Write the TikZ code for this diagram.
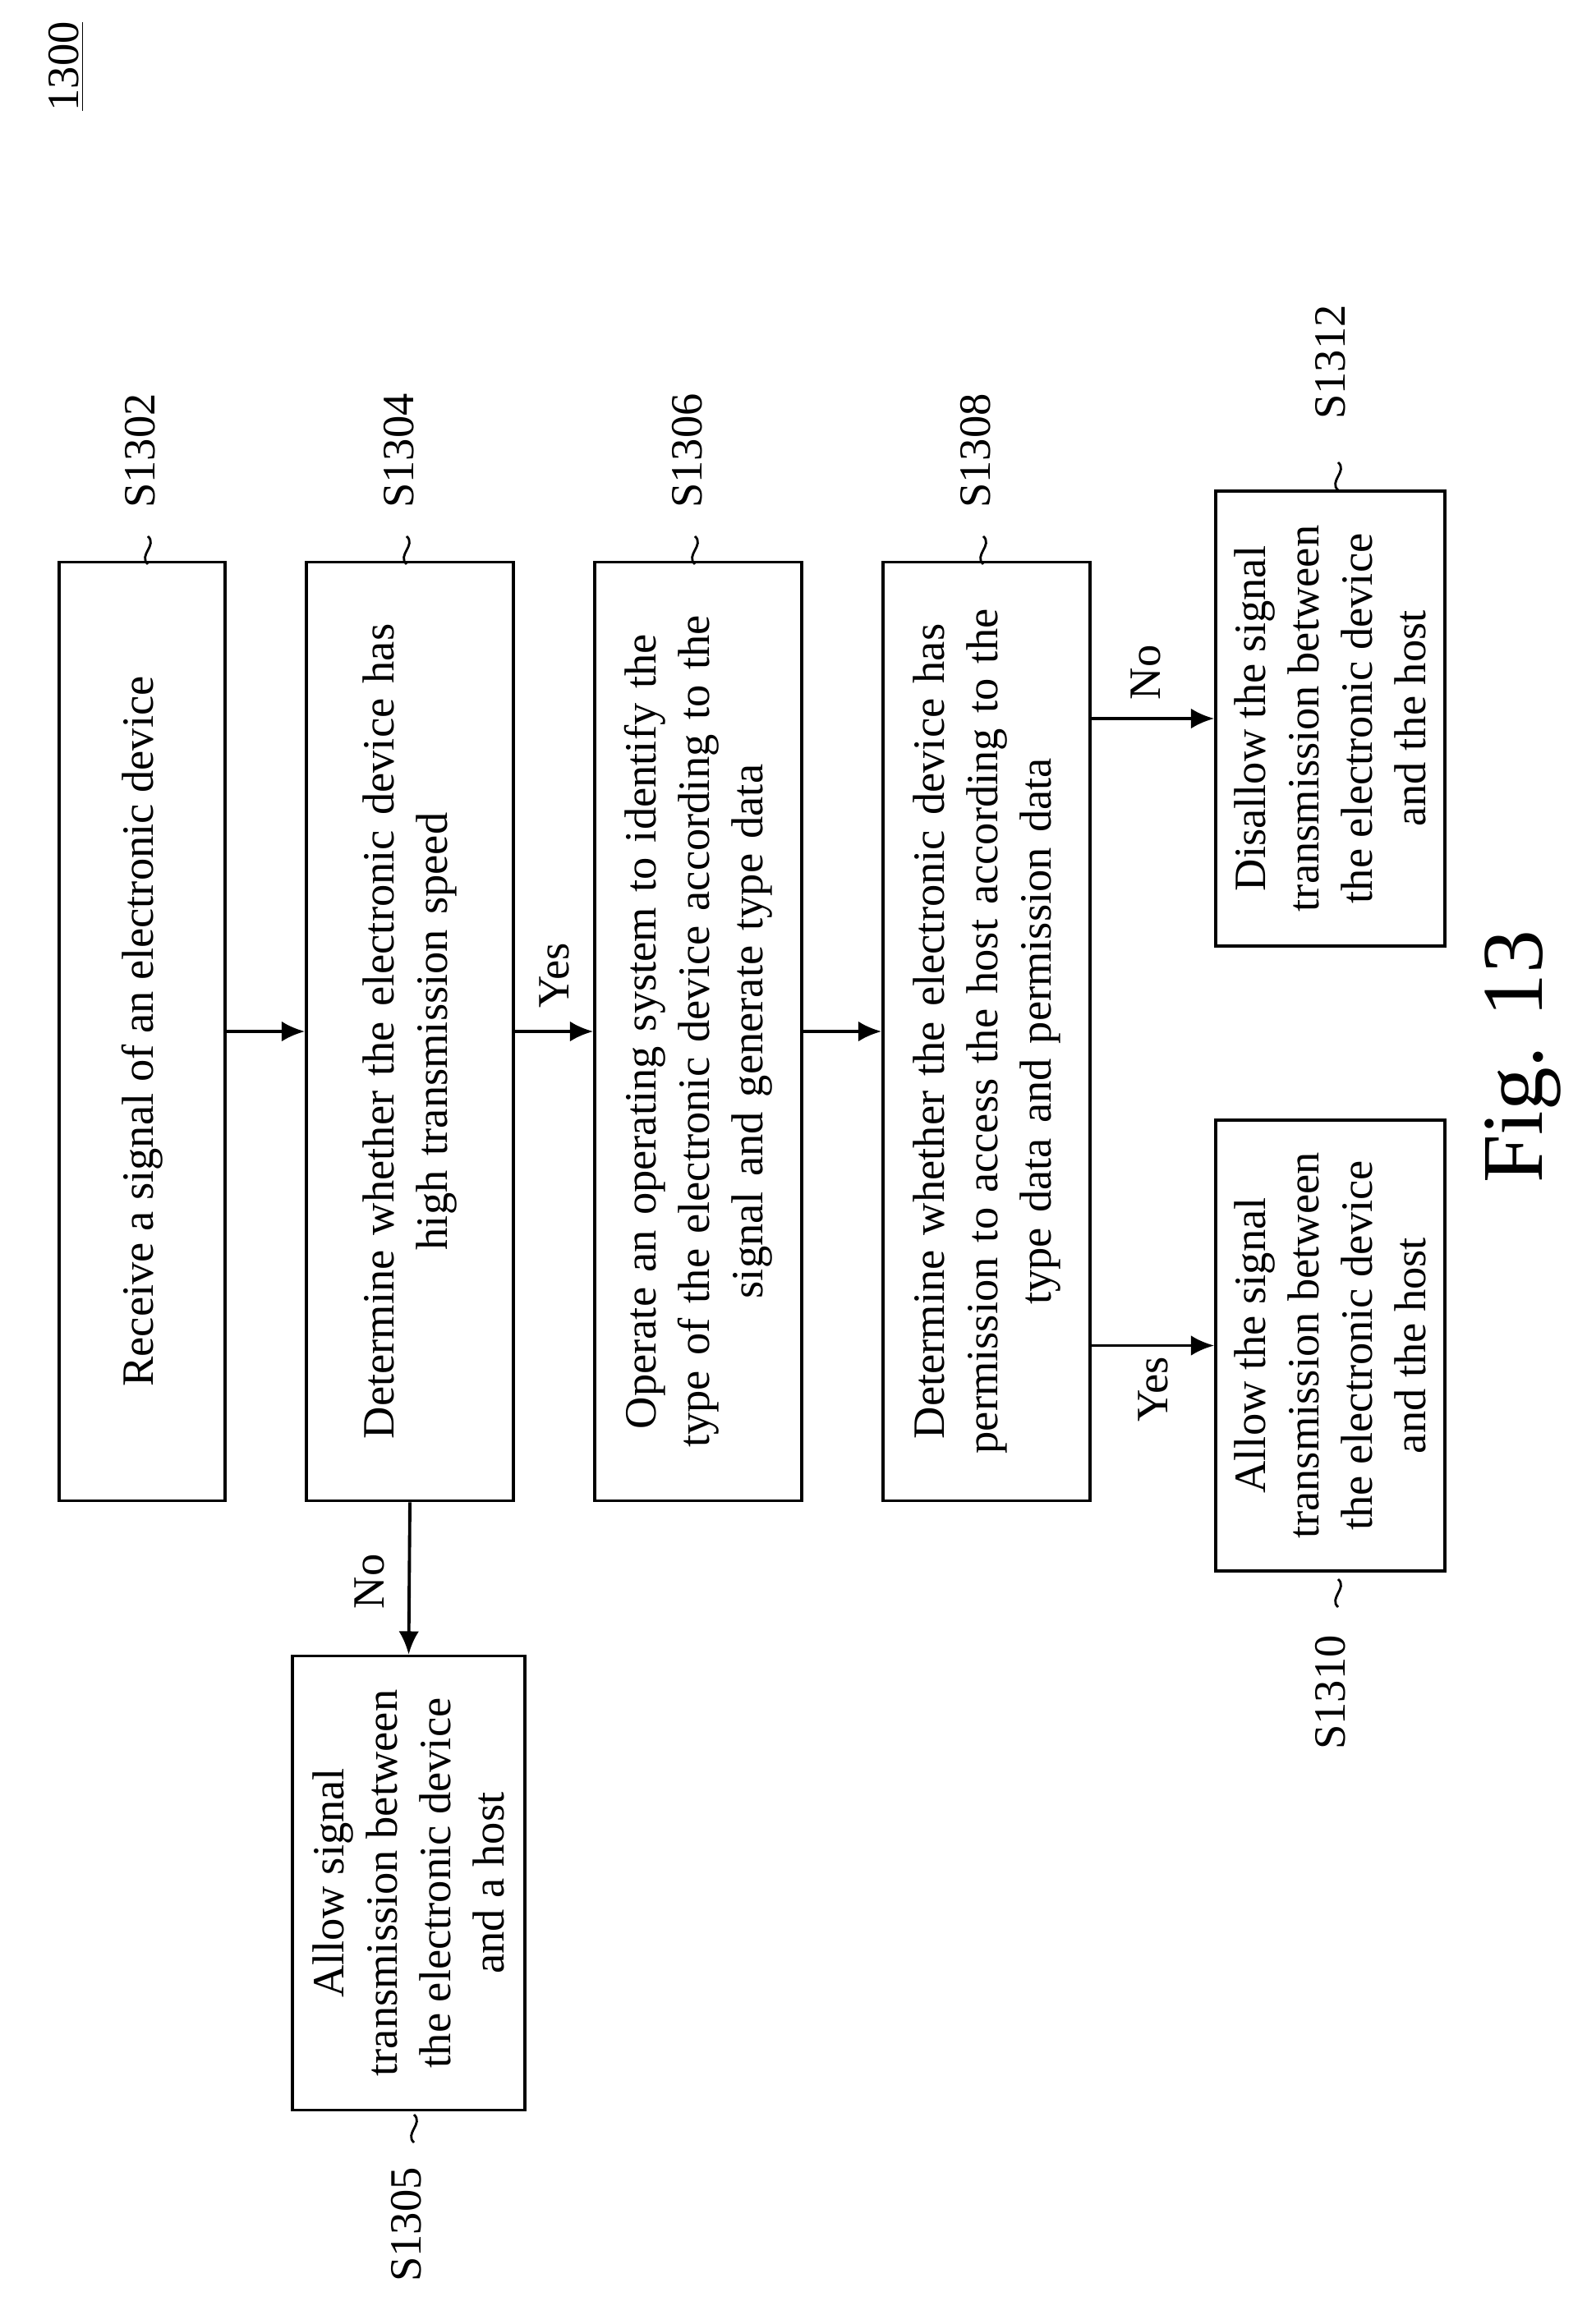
\documentclass[tikz,border=0pt]{standalone}
\usepackage{fontspec}
\setmainfont{Liberation Serif}
\usetikzlibrary{arrows.meta,calc}
\tikzset{
  proc/.style={draw, line width=1.1pt, rotate=90, align=center, inner sep=4pt,
    font=\fontsize{15.5}{18.5}\selectfont},
  lab/.style={rotate=90, font=\fontsize{15.5}{18.5}\selectfont},
  arr/.style={line width=1.1pt, -{Latex[length=8pt,width=7pt]}},
  tld/.style={line width=0.8pt}
}
% vertical tilde next to a step label
\newcommand{\tildemark}[1]{%
  \draw[tld] ($(#1)+(0,0.17)$) .. controls ($(#1)+(0.12,0.06)$) and ($(#1)+(-0.12,-0.06)$) .. ($(#1)+(0,-0.17)$);}
\begin{document}
\begin{tikzpicture}
    \useasboundingbox (0,0) rectangle (19.31,-28.30);

    % Steps
    \node[proc, minimum width=11.43cm, minimum height=2.02cm] (s1302) at (1.73,-12.56)
      {Receive a signal of an electronic device};
    \node[proc, minimum width=11.43cm, minimum height=2.52cm, text width=10.6cm] (s1304) at (4.99,-12.56)
      {Determine whether the electronic device has\\high transmission speed};
    \node[proc, minimum width=11.43cm, minimum height=2.52cm, text width=10.6cm] (s1306) at (8.50,-12.56)
      {Operate an operating system to identify the\\type of the electronic device according to the\\signal and generate type data};
    \node[proc, minimum width=11.43cm, minimum height=2.52cm, text width=10.6cm] (s1308) at (12.01,-12.56)
      {Determine whether the electronic device has\\permission to access the host according to the\\type data and permission data};
    \node[proc, minimum width=5.53cm, minimum height=2.83cm] (s1305) at (4.975,-22.93)
      {Allow signal\\transmission between\\the electronic device\\and a host};
    \node[proc, minimum width=5.49cm, minimum height=2.79cm] (s1310) at (16.195,-16.385)
      {Allow the signal\\transmission between\\the electronic device\\and the host};
    \node[proc, minimum width=5.54cm, minimum height=2.79cm] (s1312) at (16.195,-8.75)
      {Disallow the signal\\transmission between\\the electronic device\\and the host};

    % Connectors
    \draw[arr] (s1302.south) -- (s1304.north);
    \draw[arr] (s1304.south) -- (s1306.north);
    \draw[arr] (s1306.south) -- (s1308.north);
    \draw[arr] (s1304.west) -- (s1305.east);
    \draw[arr] (s1308.south |- s1312.center) -- (s1312.north);
    \draw[arr] (s1308.south |- s1310.center) -- (s1310.north);
    \node[lab] (yes1) at (6.75,-11.88) {Yes};
    \node[lab] (no1) at (4.50,-19.26) {No};
    \node[lab] (no2) at (13.95,-8.19) {No};
    \node[lab] (yes2) at (14.04,-16.92) {Yes};

    % Step labels
    \node[lab] (l1302) at (1.71,-5.49) {S1302};   \tildemark{1.80,-6.70}
    \node[lab] (l1304) at (4.86,-5.49) {S1304};   \tildemark{4.95,-6.70}
    \node[lab] (l1306) at (8.37,-5.49) {S1306};   \tildemark{8.46,-6.70}
    \node[lab] (l1308) at (11.88,-5.49) {S1308};  \tildemark{11.97,-6.70}
    \node[lab] (l1312) at (16.20,-4.41) {S1312};  \tildemark{16.29,-5.80}
    \node[lab] (l1310) at (16.20,-20.61) {S1310}; \tildemark{16.29,-19.40}
    \node[lab] (l1305) at (4.95,-27.09) {S1305};  \tildemark{5.04,-25.92}

    % Figure caption and number
    \node[rotate=90, font=\fontsize{30}{34}\selectfont] (fig) at (18.54,-12.87) {Fig. 13};
    \node[lab] (num) at (0.81,-0.81) {\underline{1300}};
\end{tikzpicture}
\end{document}
